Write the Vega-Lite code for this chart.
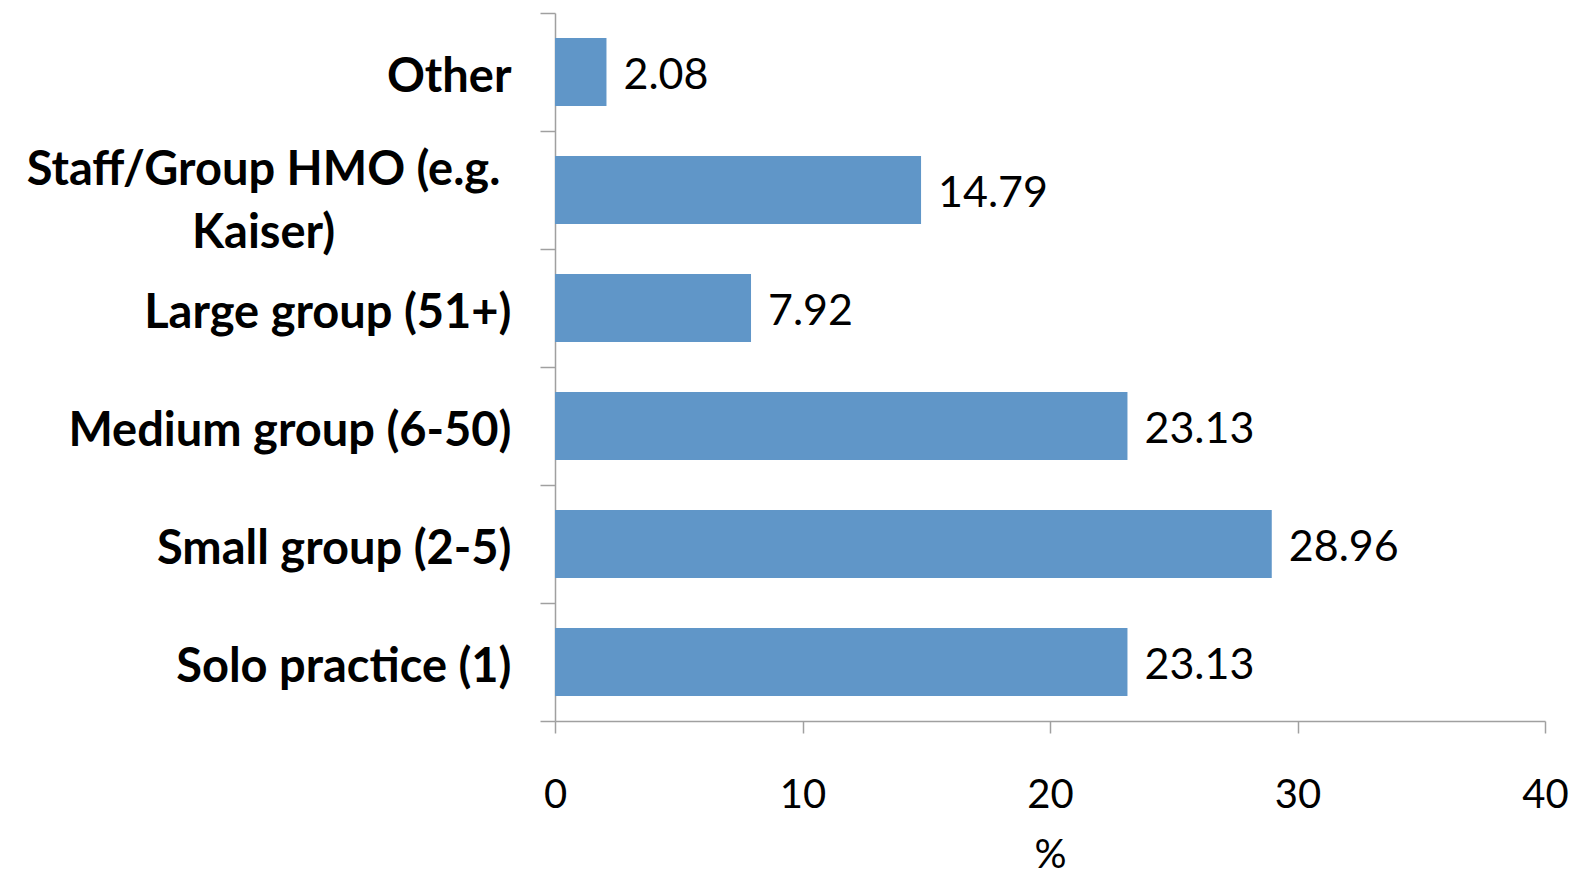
{
  "$schema": "https://vega.github.io/schema/vega-lite/v6.json",
  "width": 990,
  "height": 708,
  "autosize": {"type": "none"},
  "padding": {"left": 555, "top": 13, "right": 42, "bottom": 154},
  "background": "white",
  "config": {"view": {"stroke": null}},
  "data": {
    "values": [
      {"category": "Other", "pct": 2.08},
      {"category": "Staff/Group HMO (e.g. Kaiser)", "pct": 14.79},
      {"category": "Large group (51+)", "pct": 7.92},
      {"category": "Medium group (6-50)", "pct": 23.13},
      {"category": "Small group (2-5)", "pct": 28.96},
      {"category": "Solo practice (1)", "pct": 23.13}
    ]
  },
  "encoding": {
    "y": {
      "field": "category",
      "type": "nominal",
      "sort": ["Other", "Staff/Group HMO (e.g. Kaiser)", "Large group (51+)", "Medium group (6-50)", "Small group (2-5)", "Solo practice (1)"],
      "scale": {"paddingInner": 0, "paddingOuter": 0},
      "axis": {
        "title": null,
        "domainColor": "#a0a0a0",
        "domainWidth": 1.5,
        "tickColor": "#a0a0a0",
        "tickWidth": 1.5,
        "tickSize": 15,
        "tickBand": "extent",
        "labelFont": "Lato",
        "labelFontWeight": "bold",
        "labelFontSize": 47,
        "labelColor": "black",
        "labelLimit": 600,
        "labelLineHeight": 63,
        "labelAlign": {"condition": {"test": "datum.value == 'Staff/Group HMO (e.g. Kaiser)'", "value": "center"}, "value": "right"},
        "labelPadding": {"condition": {"test": "datum.value == 'Staff/Group HMO (e.g. Kaiser)'", "value": 277}, "value": 29},
        "labelOffset": {"condition": {"test": "datum.value == 'Staff/Group HMO (e.g. Kaiser)'", "value": -20}, "value": 5},
        "labelExpr": "datum.value == 'Staff/Group HMO (e.g. Kaiser)' ? ['Staff/Group HMO (e.g.', 'Kaiser)'] : datum.value"
      }
    },
    "x": {
      "field": "pct",
      "type": "quantitative",
      "scale": {"domain": [0, 40]},
      "axis": {
        "title": "%",
        "titleFont": "Lato",
        "titleFontWeight": "normal",
        "titleFontSize": 40,
        "titleColor": "black",
        "titlePadding": 20,
        "values": [0, 10, 20, 30, 40],
        "grid": false,
        "domainColor": "#a0a0a0",
        "domainWidth": 1.5,
        "tickColor": "#a0a0a0",
        "tickWidth": 1.5,
        "tickSize": 12,
        "labelFont": "Lato",
        "labelFontSize": 40,
        "labelColor": "black",
        "labelPadding": 42,
        "labelFlush": false
      }
    }
  },
  "layer": [
    {"mark": {"type": "bar", "color": "#6096c8", "height": {"band": 0.576}}},
    {
      "mark": {"type": "text", "align": "left", "dx": 17, "font": "Lato", "fontSize": 43, "color": "black", "baseline": "middle", "dy": 4},
      "encoding": {"text": {"field": "pct", "type": "quantitative", "format": ".2f"}}
    }
  ]
}
